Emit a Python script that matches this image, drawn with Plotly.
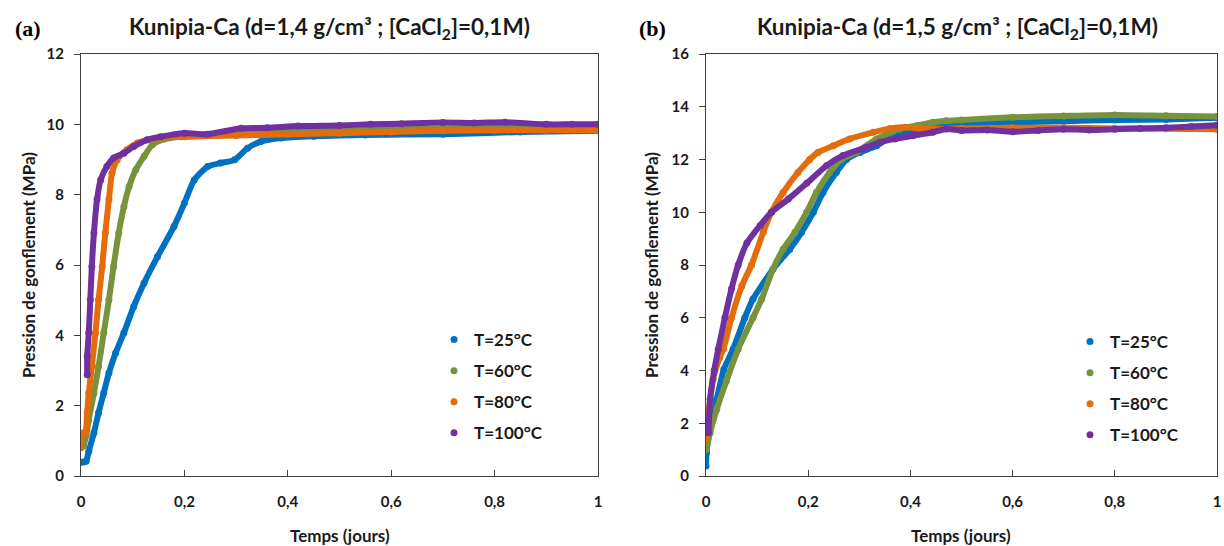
import plotly.graph_objects as go

# ---------------- Data ----------------
series_names = ["T=25°C", "T=60°C", "T=80°C", "T=100°C"]
colors = ["#0070C0", "#77933C", "#E46C0A", "#7030A0"]

# Panel (a): d=1,4 g/cm3
a_t25_x = [0.0, 0.005, 0.010, 0.015, 0.025, 0.034, 0.044, 0.054, 0.067, 0.083, 0.102, 0.122, 0.148,
           0.180, 0.200, 0.219, 0.245, 0.270, 0.297, 0.322, 0.348, 0.387, 0.45, 0.55, 0.7, 0.85, 1.0]
a_t25_y = [0.39, 0.40, 0.42, 0.70, 1.23, 1.80, 2.36, 2.93, 3.50, 4.07, 4.82, 5.49, 6.24,
           7.10, 7.76, 8.42, 8.80, 8.90, 8.99, 9.32, 9.51, 9.61, 9.66, 9.70, 9.72, 9.78, 9.82]

a_t60_x = [0.005, 0.010, 0.015, 0.025, 0.034, 0.044, 0.054, 0.063, 0.073, 0.083, 0.093, 0.106, 0.122,
           0.138, 0.161, 0.193, 0.25, 0.3, 0.4, 0.5, 0.6, 0.7, 0.8, 0.9, 1.0]
a_t60_y = [0.85, 1.15, 1.60, 2.36, 3.12, 4.07, 5.01, 5.96, 6.91, 7.66, 8.23, 8.71, 9.09,
           9.42, 9.58, 9.65, 9.68, 9.72, 9.78, 9.82, 9.86, 9.88, 9.90, 9.90, 9.90]

a_t80_x = [0.0, 0.002, 0.008, 0.012, 0.015, 0.021, 0.028, 0.034, 0.041, 0.047, 0.054, 0.060, 0.070,
           0.089, 0.109, 0.148, 0.2, 0.3, 0.4, 0.5, 0.6, 0.7, 0.8, 0.9, 1.0]
a_t80_y = [0.80, 1.22, 1.20, 1.80, 2.36, 3.12, 4.07, 5.01, 5.96, 6.91, 7.86, 8.61, 8.99,
           9.28, 9.47, 9.61, 9.65, 9.68, 9.72, 9.75, 9.78, 9.82, 9.83, 9.83, 9.83]

a_t100_x = [0.012, 0.012, 0.015, 0.018, 0.021, 0.025, 0.031, 0.038, 0.050, 0.063, 0.083, 0.102, 0.128,
            0.154, 0.200, 0.245, 0.31, 0.36, 0.42, 0.5, 0.56, 0.62, 0.7, 0.76, 0.82, 0.9, 0.95, 1.0]
a_t100_y = [2.88, 3.40, 4.07, 5.01, 5.96, 6.91, 7.86, 8.42, 8.80, 9.04, 9.18, 9.37, 9.56,
            9.65, 9.75, 9.72, 9.89, 9.90, 9.95, 9.97, 10.0, 10.02, 10.05, 10.04, 10.06, 10.0, 10.0, 10.0]

# Panel (b): d=1,5 g/cm3
b_t25_x = [0.0, 0.001, 0.008, 0.021, 0.035, 0.053, 0.076, 0.092, 0.131, 0.164, 0.187, 0.210, 0.229,
           0.255, 0.275, 0.301, 0.334, 0.360, 0.40, 0.5, 0.6, 0.7, 0.8, 0.9, 1.0]
b_t25_y = [0.38, 0.89, 1.77, 2.91, 4.05, 4.81, 6.00, 6.71, 7.84, 8.60, 9.24, 10.00, 10.75,
           11.51, 12.00, 12.27, 12.52, 12.85, 13.10, 13.30, 13.40, 13.45, 13.50, 13.52, 13.58]

b_t60_x = [0.0, 0.008, 0.021, 0.040, 0.063, 0.092, 0.109, 0.131, 0.151, 0.174, 0.197, 0.216, 0.242,
           0.265, 0.294, 0.334, 0.379, 0.412, 0.444, 0.47, 0.5, 0.6, 0.7, 0.8, 0.9, 1.0]
b_t60_y = [1.00, 1.64, 2.53, 3.60, 4.81, 6.00, 6.71, 7.84, 8.60, 9.24, 10.00, 10.75, 11.51,
           12.00, 12.27, 12.78, 13.16, 13.28, 13.41, 13.47, 13.50, 13.60, 13.65, 13.69, 13.66, 13.63]

b_t80_x = [0.0, 0.005, 0.014, 0.027, 0.034, 0.050, 0.070, 0.089, 0.112, 0.128, 0.151, 0.180, 0.203,
           0.219, 0.249, 0.281, 0.327, 0.36, 0.39, 0.42, 0.45, 0.5, 0.6, 0.7, 0.8, 0.9, 1.0]
b_t80_y = [1.39, 2.40, 3.67, 4.50, 4.81, 6.00, 7.20, 8.00, 9.24, 10.00, 10.75, 11.51, 12.00,
           12.27, 12.52, 12.78, 13.03, 13.18, 13.22, 13.18, 13.16, 13.18, 13.20, 13.20, 13.18, 13.17, 13.15]

b_t100_x = [0.005, 0.008, 0.016, 0.024, 0.037, 0.050, 0.063, 0.080, 0.106, 0.128, 0.161, 0.197, 0.236,
            0.268, 0.314, 0.340, 0.37, 0.405, 0.444, 0.47, 0.5, 0.55, 0.6, 0.65, 0.7, 0.75, 0.8, 0.85, 0.9, 0.95, 1.0]
b_t100_y = [1.64, 2.91, 4.00, 4.81, 6.00, 7.10, 8.00, 8.83, 9.50, 10.00, 10.50, 11.10, 11.77,
            12.15, 12.46, 12.65, 12.78, 12.90, 13.03, 13.16, 13.10, 13.12, 13.05, 13.10, 13.15, 13.12, 13.15, 13.18, 13.20, 13.25, 13.30]

panel_a = [(a_t25_x, a_t25_y), (a_t60_x, a_t60_y), (a_t80_x, a_t80_y), (a_t100_x, a_t100_y)]
panel_b = [(b_t25_x, b_t25_y), (b_t60_x, b_t60_y), (b_t80_x, b_t80_y), (b_t100_x, b_t100_y)]

x_ticks = [0, 0.2, 0.4, 0.6, 0.8, 1]
a_y_ticks = [0, 2, 4, 6, 8, 10, 12]
b_y_ticks = [0, 2, 4, 6, 8, 10, 12, 14, 16]

title_a = "Kunipia-Ca (d=1,4 g/cm³ ; [CaCl<sub>2</sub>]=0,1M)"
title_b = "Kunipia-Ca (d=1,5 g/cm³ ; [CaCl<sub>2</sub>]=0,1M)"
y_title = "Pression de gonflement (MPa)"
x_title = "Temps (jours)"

# ---------------- Figure ----------------
W, H = 1224, 546
FONT = "Lato"
TXT = "#1a1a1a"
fig = go.Figure()

def add_panel(data, xa, ya, legend_name):
    for i, (xs, ys) in enumerate(data):
        fig.add_trace(go.Scatter(x=xs, y=ys, mode="lines", xaxis=xa, yaxis=ya,
                                 line=dict(color=colors[i], width=6, shape="spline", smoothing=0.6),
                                 showlegend=False, hoverinfo="skip"))
        fig.add_trace(go.Scatter(x=xs, y=ys, mode="markers", xaxis=xa, yaxis=ya,
                                 marker=dict(color=colors[i], size=7),
                                 name=series_names[i], legend=legend_name,
                                 legendgroup=legend_name + str(i)))

add_panel(panel_a, "x", "y", "legend")
add_panel(panel_b, "x2", "y2", "legend2")

def px_x(p):
    return p / W

def px_y(p):
    return 1 - p / H

axis_common = dict(showline=True, linecolor="#404040", linewidth=1.2, mirror=True,
                   showgrid=False, zeroline=False, automargin=False,
                   tickfont=dict(family=FONT, size=15, color=TXT, weight="bold"),
                   ticklen=6, tickcolor="#404040")

leg_font = dict(family=FONT, size=17, color=TXT, weight="bold")
fig.update_layout(
    width=W, height=H, margin=dict(l=0, r=0, t=0, b=0),
    paper_bgcolor="white", plot_bgcolor="white",
    separators=", ",
    xaxis=dict(domain=[px_x(81), px_x(598)], range=[0, 1], tickvals=x_ticks, ticks="inside",
               ticklabelstandoff=12, anchor="y", **axis_common),
    yaxis=dict(domain=[px_y(476), px_y(54)], range=[0, 12], tickvals=a_y_ticks, ticks="outside",
               ticklabelstandoff=7, anchor="x", **axis_common),
    xaxis2=dict(domain=[px_x(706), px_x(1217)], range=[0, 1], tickvals=x_ticks, ticks="inside",
                ticklabelstandoff=12, anchor="y2", **axis_common),
    yaxis2=dict(domain=[px_y(476), px_y(54)], range=[0, 16], tickvals=b_y_ticks, ticks="outside",
                ticklabelstandoff=7, anchor="x2", **axis_common),
    legend=dict(x=px_x(434), y=px_y(322), xanchor="left", yanchor="top", font=leg_font,
                bgcolor="rgba(0,0,0,0)", tracegroupgap=6, itemwidth=30),
    legend2=dict(x=px_x(1070), y=px_y(324), xanchor="left", yanchor="top", font=leg_font,
                 bgcolor="rgba(0,0,0,0)", tracegroupgap=6, itemwidth=30),
)

ann_font = dict(family=FONT, size=22.5, color=TXT, weight="bold")
axt_font = dict(family=FONT, size=17, color=TXT, weight="bold")
lab_font = dict(family="Liberation Serif", size=22, color="black", weight="bold")
annotations = [
    dict(text=title_a, x=px_x(329), y=px_y(28), font=ann_font),
    dict(text=title_b, x=px_x(957), y=px_y(28), font=ann_font),
    dict(text="(a)", x=px_x(28), y=px_y(28), font=lab_font),
    dict(text="(b)", x=px_x(652), y=px_y(28), font=lab_font),
    dict(text=x_title, x=px_x(340), y=px_y(535), font=axt_font),
    dict(text=x_title, x=px_x(961), y=px_y(535), font=axt_font),
    dict(text=y_title, x=px_x(28), y=px_y(265), font=axt_font, textangle=-90),
    dict(text=y_title, x=px_x(651), y=px_y(265), font=axt_font, textangle=-90),
]
for a in annotations:
    a.update(xref="paper", yref="paper", showarrow=False, xanchor="center", yanchor="middle")
fig.update_layout(annotations=annotations)

fig.write_html("out.html", config={"displayModeBar": False},
               post_script="document.body.style.margin='0px';")
